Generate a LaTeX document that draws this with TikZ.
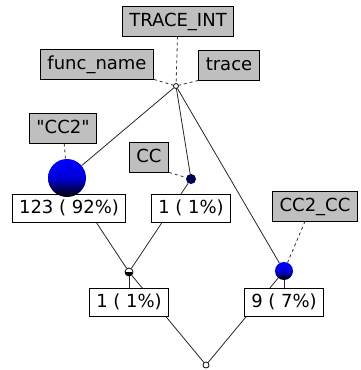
\documentclass[tikz,border=0pt]{standalone}
\usepackage{fontspec}
\newfontfamily\boxfont{DejaVu Sans}
\usetikzlibrary{backgrounds}

\tikzset{
	tagbox/.style={draw=black, fill=black!25, line width=0.8pt, font=\boxfont\fontsize{18}{20}\selectfont,
		inner xsep=7pt, minimum height=30pt, text height=13pt, text depth=3pt},
	countbox/.style={draw=black, fill=white, line width=0.8pt, font=\boxfont\fontsize{18}{20}\selectfont,
		inner xsep=6.5pt, minimum height=28pt, text height=13pt, text depth=3pt},
	ball/.style={circle, draw=none, inner sep=0pt, top color=blue, bottom color=black,
		middle color=blue!85!black},
	tiny/.style={circle, draw=black, fill=white, line width=0.8pt, inner sep=0pt, minimum size=#1},
	edge/.style={line width=0.8pt, black!85},
	tagline/.style={dashed, line width=0.8pt, black!80}
}

\begin{document}
\begin{tikzpicture}[x=1pt, y=-1pt]
	\useasboundingbox (0,0) rectangle (360,370);

    % Tags
	\node[tagbox] (traceint) at (178,21) {TRACE\_INT};
	\node[tagbox] (funcname) at (97,64) {func\_name};
	\node[tagbox] (tracetag) at (229,65) {trace};
	\node[tagbox] (cctwo) at (63,128) {"CC2"};
	\node[tagbox] (cc) at (149,157) {CC};
	\node[tagbox] (cctwocc) at (315,206) {CC2\_CC};

    % Counts
	\node[countbox] (countA) at (69,208) {123 ( 92\%)};
	\node[countbox] (countB) at (191,208) {1 ( 1\%)};
	\node[countbox] (countC) at (129,302) {1 ( 1\%)};
	\node[countbox] (countD) at (284,302) {9 ( 7\%)};

    % Call nodes
	\node[tiny=5pt] (root) at (176,86) {};
	\node[ball, minimum size=38pt] (callA) at (67,178) {};
	\node[circle, fill=blue!30!black, inner sep=0pt, minimum size=10pt] (callB) at (191,179) {};
	\node[tiny=8pt, path picture={\fill[black] (path picture bounding box.west) rectangle (path picture bounding box.south east);}] (callC) at (129,272) {};
	\node[ball, minimum size=18pt] (callD) at (284,271) {};
	\node[tiny=6pt] (leaf) at (206,365) {};

	\begin{scope}[on background layer]
    % Edges
	\draw[edge] (root) -- (callA);
	\draw[edge] (root) -- (callB);
	\draw[edge] (root) -- (callD);
	\draw[edge] (callA) -- (callC);
	\draw[edge] (callB) -- (callC);
	\draw[edge] (callC) -- (leaf);
	\draw[edge] (callD) -- (leaf);
	\draw[edge] (callC) -- (countC);
	\draw[edge] (callD) -- (countD);

    % Tag lines
	\draw[tagline] (traceint) -- (root);
	\draw[tagline] (funcname.south east) -- (root);
	\draw[tagline] (tracetag.south west) -- (root);
	\draw[tagline] (cctwo) -- (callA);
	\draw[tagline] (cc.south east) -- (callB);
	\draw[tagline] (cctwocc.south) ++(-10,0) -- (callD);
	\end{scope}

\end{tikzpicture}
\end{document}
